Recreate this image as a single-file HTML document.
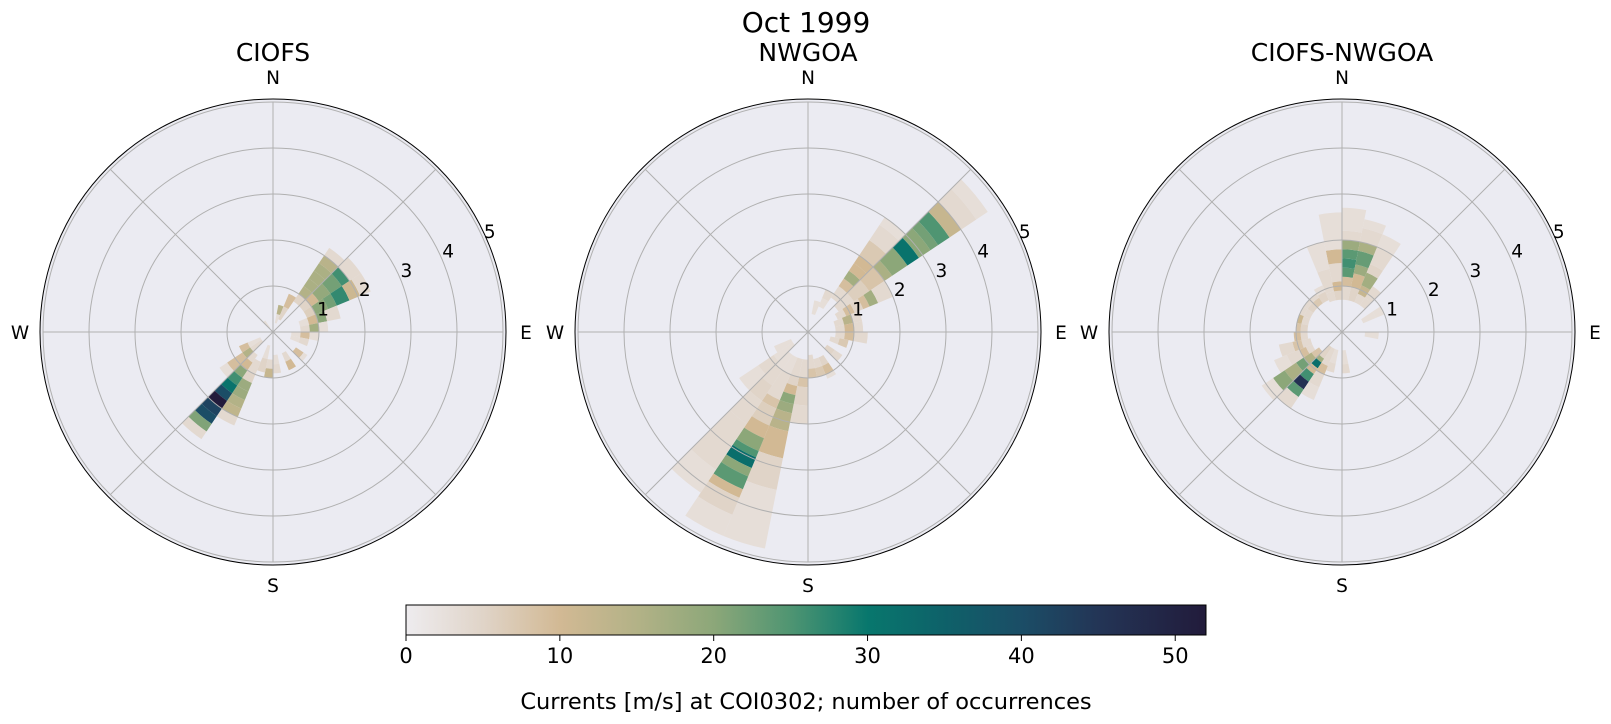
<!DOCTYPE html>
<html><head><meta charset="utf-8"><style>
html,body{margin:0;padding:0;background:#fff;}
svg{display:block;font-family:"DejaVu Sans","Liberation Sans",sans-serif;}
</style></head><body>
<svg id="s" width="1611" height="724" viewBox="0 0 1611 724" xmlns="http://www.w3.org/2000/svg">
<defs>
<linearGradient id="cb" x1="0" x2="1" y1="0" y2="0">
<stop offset="0" stop-color="#eeecef"/>
<stop offset="0.096" stop-color="#e0d4c8"/>
<stop offset="0.192" stop-color="#d2b994"/>
<stop offset="0.288" stop-color="#b3b287"/>
<stop offset="0.385" stop-color="#8ca779"/>
<stop offset="0.48" stop-color="#4f9572"/>
<stop offset="0.577" stop-color="#08776d"/>
<stop offset="0.673" stop-color="#0e6169"/>
<stop offset="0.77" stop-color="#1b4d66"/>
<stop offset="0.865" stop-color="#233556"/>
<stop offset="1" stop-color="#221b3b"/>
</linearGradient>
</defs>
<text x="806" y="32" font-size="28" text-anchor="middle">Oct 1999</text>
<g id="bars"></g>
<rect x="406" y="605" width="800" height="30" fill="url(#cb)" stroke="#000" stroke-width="1"/>
<g font-size="21" text-anchor="middle" id="cbt"></g>
<text x="806" y="709" font-size="22.5" text-anchor="middle">Currents [m/s] at COI0302; number of occurrences</text>
</svg>
<script>
const S=document.getElementById('s'),NS='http://www.w3.org/2000/svg';
function el(t,a,p){const e=document.createElementNS(NS,t);for(const k in a)e.setAttribute(k,a[k]);(p||S).appendChild(e);return e;}
const stops=[[0,[238,236,239]],[5,[224,212,200]],[10,[210,185,148]],[15,[179,178,135]],[20,[140,167,121]],[25,[79,149,114]],[30,[8,119,109]],[35,[14,97,105]],[40,[27,77,102]],[45,[35,53,86]],[52,[34,27,59]]];
function cm(v){v=Math.max(0,Math.min(52,v));for(let i=0;i<stops.length-1;i++){const[a,ca]=stops[i],[b,cb]=stops[i+1];if(v<=b){const t=(v-a)/(b-a);return 'rgb('+ca.map((c,j)=>Math.round(c+(cb[j]-c)*t)).join(',')+')';}}}
const U=46,CY=332;
const panels=[
{cx:273,title:'CIOFS',d:[
[33.75,[[0.8,1,5],[1,1.2,15],[1.2,1.4,16],[1.4,1.6,16],[1.6,1.8,16],[1.8,2.0,14],[2.0,2.2,4]]],
[45,[[0.8,1,5],[1,1.2,10],[1.2,1.5,19],[1.5,1.8,22],[1.8,2.0,26],[2.0,2.3,4]]],
[56.25,[[0.8,1.0,6],[1.0,1.3,20],[1.3,1.5,22],[1.5,1.8,27],[1.8,2.05,11],[2.05,2.3,4]]],
[67.5,[[0.6,0.8,3],[0.8,1.0,10],[1.0,1.2,20],[1.2,1.5,4]]],
[78.75,[[0.6,0.8,4],[0.8,1.0,17],[1.0,1.2,3]]],
[90,[[0.4,0.6,3],[0.6,0.8,9],[0.8,1.0,3]]],
[101.25,[[0.4,0.6,3],[0.6,0.8,4]]],
[123.75,[[0.6,0.8,9],[0.8,0.9,3]]],
[146.25,[[0.5,0.7,4],[0.7,0.9,10]]],
[168.75,[[0.5,0.7,3],[0.7,0.9,4]]],
[180,[[0.6,0.8,4],[0.8,1.0,12]]],
[191.25,[[0.3,0.6,3],[0.6,0.9,5]]],
[202.5,[[0.7,1.0,4],[1.0,1.2,5],[1.2,1.4,18],[1.4,1.6,18],[1.6,1.8,15],[1.8,2.0,13],[2.0,2.2,4]]],
[213.75,[[0.6,0.8,4],[0.8,1.0,10],[1.0,1.2,20],[1.2,1.4,26],[1.4,1.6,31],[1.6,1.8,40],[1.8,2.0,52],[2.0,2.2,42],[2.2,2.4,40],[2.4,2.6,21],[2.6,2.8,4]]],
[225,[[0.3,0.6,4],[0.6,0.8,15],[0.8,1.0,9],[1.0,1.2,9],[1.2,1.4,3]]],
[236.25,[[0.3,0.6,3],[0.6,0.8,9]]],
[11.25,[[0.2,0.4,3],[0.4,0.6,14]]],
[22.5,[[0.3,0.6,5],[0.6,0.9,9]]],
[315,[[0.1,0.3,3]]],
]},
{cx:808,title:'NWGOA',d:[
[33.75,[[0.9,1.2,4],[1.2,1.4,9],[1.4,1.6,17],[1.6,1.8,10],[1.8,2.0,10],[2.0,2.4,7],[2.4,2.8,4],[2.8,3.0,3]]],
[45,[[0.8,1.2,4],[1.2,1.6,6],[1.6,2.0,8],[2.0,2.2,16],[2.2,2.6,20],[2.6,2.9,31],[2.9,3.2,20],[3.2,3.4,22],[3.4,3.7,25],[3.7,4.0,12],[4.0,4.4,4],[4.4,4.7,3]]],
[56.25,[[0.7,0.9,4],[0.9,1.1,9],[1.1,1.3,5],[1.3,1.45,9],[1.45,1.65,17],[1.65,2.0,4]]],
[67.5,[[0.6,0.8,4],[0.8,1.0,14],[1.0,1.2,4]]],
[78.75,[[0.6,0.8,4],[0.8,1.0,10],[1.0,1.2,4]]],
[90,[[0.6,0.8,4],[0.8,1.0,9],[1.0,1.3,4]]],
[101.25,[[0.5,0.7,4],[0.7,0.9,7]]],
[123.75,[[0.5,0.7,5],[0.7,0.9,4]]],
[146.25,[[0.6,0.8,5],[0.8,1.0,9],[1.0,1.1,3]]],
[157.5,[[0.6,0.8,4],[0.8,1.0,7]]],
[168.75,[[0.5,0.8,4],[0.8,1.0,8]]],
[180,[[0.6,1.0,4],[1.0,1.2,8],[1.2,1.6,5],[1.6,2.0,4]]],
[191.25,[[0.6,1.0,4],[1.0,1.2,5],[1.2,1.4,10],[1.4,1.6,20],[1.6,1.8,18],[1.8,2.2,14],[2.2,2.8,10],[2.8,3.5,5],[3.5,4.8,3]]],
[202.5,[[0.6,1.0,3],[1.0,1.6,4],[1.6,1.8,8],[1.8,2.2,6],[2.2,2.5,10],[2.5,2.8,20],[2.8,2.95,25],[2.95,3.2,32],[3.2,3.4,20],[3.4,3.7,24],[3.7,3.9,10],[3.9,4.3,5],[4.3,4.8,3]]],
[213.75,[[0.6,1.0,3],[1.0,1.4,4],[1.4,1.8,5],[1.8,2.4,4],[2.4,3.6,4],[3.6,4.2,3]]],
[225,[[0.4,0.9,3],[0.9,1.3,4],[1.3,1.8,3]]],
[236.25,[[0.4,0.8,3]]],
[11.25,[[0.4,0.7,3]]],
[22.5,[[0.6,0.8,3],[0.8,1.0,4]]],
]},
{cx:1342,title:'CIOFS-NWGOA',d:[
[0,[[0.7,1.0,4],[1.0,1.2,9],[1.2,1.4,24],[1.4,1.6,26],[1.6,1.8,24],[1.8,2.0,18],[2.0,2.2,4],[2.2,2.7,3]]],
[11.25,[[0.7,1.0,5],[1.0,1.3,10],[1.3,1.5,18],[1.5,1.8,23],[1.8,2.0,16],[2.0,2.3,4],[2.3,2.5,3]]],
[22.5,[[0.7,0.9,4],[0.9,1.1,12],[1.1,1.4,17],[1.4,1.6,5],[1.6,2.0,4],[2.0,2.3,3]]],
[33.75,[[0.7,0.9,4],[0.9,1.2,4]]],
[348.75,[[0.7,0.9,5],[0.9,1.1,10],[1.1,1.5,4],[1.5,1.8,10],[1.8,2.6,3]]],
[337.5,[[0.7,0.9,4],[0.9,1.4,4],[1.4,2.0,3]]],
[326.25,[[0.75,0.95,5],[0.95,1.1,3]]],
[315,[[0.75,0.9,7],[0.9,1.0,4]]],
[303.75,[[0.75,0.9,5],[0.9,1.0,4]]],
[292.5,[[0.75,0.9,4],[0.9,1.0,4]]],
[281.25,[[0.75,0.9,4],[0.9,1.0,11]]],
[270,[[0.75,0.9,5],[0.9,1.0,8]]],
[258.75,[[0.75,0.9,4],[0.9,1.05,9]]],
[247.5,[[0.7,0.9,4],[0.9,1.1,8],[1.1,1.4,4]]],
[236.25,[[0.7,0.85,4],[0.85,1.0,9],[1.0,1.3,4],[1.3,1.6,3]]],
[225,[[0.6,0.8,8],[0.8,1.0,15],[1.0,1.2,22],[1.2,1.5,16],[1.5,1.8,20],[1.8,2.1,3]]],
[213.75,[[0.4,0.7,5],[0.7,0.8,17],[0.8,0.95,32],[0.95,1.1,10],[1.1,1.3,26],[1.3,1.5,46],[1.5,1.7,24],[1.7,2.0,4]]],
[202.5,[[0.4,0.8,4],[0.8,1.0,9],[1.0,1.3,4],[1.3,1.6,3]]],
[191.25,[[0.4,0.7,3],[0.7,0.9,4]]],
[168.75,[[0.4,0.7,3],[0.7,0.9,4]]],
[90,[[0.5,0.8,3]]],
[56.25,[[0.5,0.8,3],[0.8,1.0,3]]],
]}];
const g=document.getElementById('bars');
function P(cx,r,b){const a=b*Math.PI/180;return [cx+r*Math.sin(a),CY-r*Math.cos(a)];}
panels.forEach(p=>{
 const cx=p.cx;
 el('circle',{cx:cx,cy:CY,r:233,fill:'#ebebf2'},g);
 p.d.forEach(([b0,segs])=>{const b1=b0+11.25;segs.forEach(([r0,r1,c])=>{
  const R0=r0*U,R1=r1*U;const a=P(cx,R0,b0),bb=P(cx,R1,b0),cc=P(cx,R1,b1),d=P(cx,R0,b1);
  el('path',{d:`M${a}L${bb}A${R1},${R1} 0 0 1 ${cc}L${d}A${R0},${R0} 0 0 0 ${a}Z`,fill:cm(c)},g);});});
 for(let k=1;k<=5;k++)el('circle',{cx:cx,cy:CY,r:k*U,fill:'none',stroke:'#b0b0b0','stroke-width':1},g);
 for(let b=0;b<360;b+=45){const q=P(cx,230,b);el('line',{x1:cx,y1:CY,x2:q[0],y2:q[1],stroke:'#b0b0b0','stroke-width':1},g);}
 el('circle',{cx:cx,cy:CY,r:233,fill:'none',stroke:'#000','stroke-width':1},g);
 const t=(x,y,s,fs,anc)=>{const e=el('text',{x:x,y:y,'font-size':fs,'text-anchor':anc||'middle'},g);e.textContent=s;};
 t(cx,61,p.title,25);
 t(cx,84,'N',18.5);t(cx,592,'S',18.5);t(cx-253,339,'W',18.5);t(cx+253,339,'E',18.5);
 for(let k=1;k<=5;k++){const q=P(cx,(k+0.2)*U,65);t(q[0],q[1]+7,String(k),18.5);}
});
const cbt=document.getElementById('cbt');
for(let v=0;v<=50;v+=10){const x=406+800*v/52;el('line',{x1:x,y1:635,x2:x,y2:641,stroke:'#000','stroke-width':1},S);const e=el('text',{x:x,y:663,'font-size':21,'text-anchor':'middle'},cbt);e.textContent=String(v);}
</script>
</body></html>
